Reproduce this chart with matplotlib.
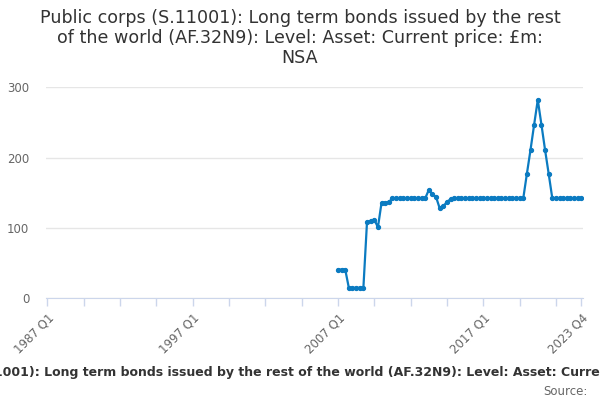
#!/usr/bin/env python3
"""Public corps long term bonds issued by the rest of the world, quarterly level."""

import matplotlib.pyplot as plt
import numpy as np

TITLE = ("Public corps (S.11001): Long term bonds issued by the rest\n"
         "of the world (AF.32N9): Level: Asset: Current price: £m:\nNSA")
FULL_NAME = ("Public corps (S.11001): Long term bonds issued by the rest of the world "
             "(AF.32N9): Level: Asset: Current price: £m: NSA")

# quarters 1987 Q1 .. 2023 Q4, data starts 2007 Q1
quarters = [f"{y} Q{q}" for y in range(1987, 2024) for q in range(1, 5)]
start_label = "2007 Q1"
values = [
    41, 41, 41,                      # 2007 Q1-Q3
    15, 15, 15, 15, 15,              # 2007 Q4 - 2008 Q4
    109, 110, 112, 101,              # 2009
    136, 136, 137,                   # 2010 Q1-Q3
    142, 142, 142, 142, 142, 142, 142, 142, 142, 142,
    154, 148, 144,                   # 2013 Q2-Q4
    128, 131, 137, 141,              # 2014
    142, 142, 142, 142, 142, 142, 142, 142, 142, 142,
    142, 142, 142, 142, 142, 142, 142, 142, 142, 142,
    177, 211, 247, 282, 247, 211, 177,
    142, 142, 142, 142, 142, 142, 142, 142, 142,
]
tick_labels = ["1987 Q1", "1997 Q1", "2007 Q1", "2017 Q1", "2023 Q4"]
y_ticks = [0, 100, 200, 300]

start = quarters.index(start_label)
x = np.arange(start, start + len(values))

fig = plt.figure(figsize=(6, 4), dpi=100)
ax = fig.add_axes([0.0767, 0.254, 0.895, 0.528])

ax.plot(x, values, color="#0b7bc1", linewidth=1.6, marker="o", markersize=2.8,
        zorder=3)

ax.set_xlim(-0.35, len(quarters) - 1 + 0.45)
ax.set_ylim(0, 300)

minor = list(range(0, len(quarters), 10)) + [len(quarters) - 1]
ax.set_xticks(minor)
ax.set_xticklabels([q if q in tick_labels else "" for q in
                    (quarters[i] for i in minor)],
                   rotation=45, ha="right", va="top", rotation_mode="anchor",
                   fontsize=8.5, color="#666666")
ax.tick_params(axis="x", length=6, color="#ccd6eb", width=1, pad=3)

ax.set_yticks(y_ticks)
ax.set_yticklabels([str(v) for v in y_ticks], fontsize=8.5, color="#666666")
ax.tick_params(axis="y", length=0, pad=12)
ax.grid(axis="y", color="#e6e6e6", linewidth=1)
ax.set_axisbelow(True)

for side in ["top", "right", "left"]:
    ax.spines[side].set_visible(False)
ax.spines["bottom"].set_color("#ccd6eb")
ax.spines["bottom"].set_zorder(1)

fig.text(0.5, 0.978, TITLE, ha="center", va="top", fontsize=12.6,
         color="#333333", linespacing=1.14)
fig.text(0.5, 0.068, FULL_NAME, ha="center", va="center", fontsize=9,
         fontweight="bold", color="#333333")
fig.text(0.98, 0.022, "Source:", ha="right", va="center", fontsize=8.5,
         color="#666666")

fig.savefig("out.png", dpi=100)
